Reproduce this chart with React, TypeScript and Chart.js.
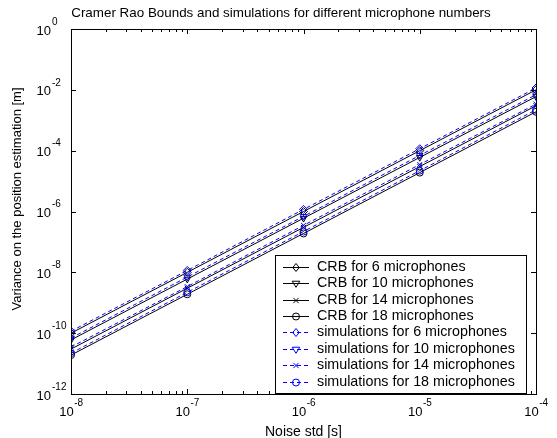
import React, { useEffect, useRef } from 'react';
import { Chart, registerables } from 'chart.js';

Chart.register(...registerables);

// ---- data ----
const noiseStd = [1e-8, 1e-7, 1e-6, 1e-5, 1e-4];

const crb6 = [1.0e-10, 1.0e-8, 1.0e-6, 1.0e-4, 1.0e-2];
const crb10 = [6.0e-11, 6.0e-9, 6.0e-7, 6.0e-5, 6.0e-3];
const crb14 = [3.0e-11, 3.0e-9, 3.0e-7, 3.0e-5, 3.0e-3];
const crb18 = [1.9e-11, 1.9e-9, 1.9e-7, 1.9e-5, 1.9e-3];

const sim6 = [1.16e-10, 1.15e-8, 1.17e-6, 1.16e-4, 1.15e-2];
const sim10 = [6.9e-11, 7.0e-9, 6.9e-7, 7.0e-5, 6.9e-3];
const sim14 = [3.5e-11, 3.4e-9, 3.5e-7, 3.5e-5, 3.4e-3];
const sim18 = [2.2e-11, 2.2e-9, 2.2e-7, 2.2e-5, 2.2e-3];

const crbLabels = [
  'CRB for 6 microphones',
  'CRB for 10 microphones',
  'CRB for 14 microphones',
  'CRB for 18 microphones',
];
const simLabels = [
  'simulations for 6 microphones',
  'simulations for 10 microphones',
  'simulations for 14 microphones',
  'simulations for 18 microphones',
];

const xTickValues = [1e-8, 1e-7, 1e-6, 1e-5, 1e-4];
const xTickExps = ['-8', '-7', '-6', '-5', '-4'];
const yTickValues = [1, 1e-2, 1e-4, 1e-6, 1e-8, 1e-10, 1e-12];
const yTickExps = ['0', '-2', '-4', '-6', '-8', '-10', '-12'];

const titleText = 'Cramer Rao Bounds and simulations for different microphone numbers';
const xTitle = 'Noise std [s]';
const yTitle = 'Variance on the position estimation [m]';

const FONT = '"Liberation Sans", Arial, Helvetica, sans-serif';
const BLUE = '#0000ff';
const styles = ['rectRot', 'triangle', 'crossRot', 'circle'];
const rotations = [0, 180, 0, 0];
const radii = [4, 3.8, 3.5, 3.5];

function drawMarker(ctx: CanvasRenderingContext2D, kind: string, x: number, y: number, r: number, color: string) {
  ctx.save();
  ctx.strokeStyle = color;
  ctx.lineWidth = 1;
  ctx.setLineDash([]);
  ctx.beginPath();
  if (kind === 'rectRot') {
    ctx.moveTo(x, y - r);
    ctx.lineTo(x + r * 0.8, y);
    ctx.lineTo(x, y + r);
    ctx.lineTo(x - r * 0.8, y);
    ctx.closePath();
  } else if (kind === 'triangle') {
    ctx.moveTo(x - r, y - r * 0.6);
    ctx.lineTo(x + r, y - r * 0.6);
    ctx.lineTo(x, y + r);
    ctx.closePath();
  } else if (kind === 'crossRot') {
    const d = r * 0.75;
    ctx.moveTo(x - d, y - d);
    ctx.lineTo(x + d, y + d);
    ctx.moveTo(x + d, y - d);
    ctx.lineTo(x - d, y + d);
  } else {
    ctx.arc(x, y, r, 0, Math.PI * 2);
  }
  ctx.stroke();
  ctx.restore();
}

const decorPlugin = {
  id: 'decor',
  afterDatasetsDraw(chart: any) {
    const { ctx, chartArea, scales } = chart;
    const { left, right, top, bottom } = chartArea;
    const xs = scales.x;
    const ys = scales.y;
    ctx.save();
    ctx.setLineDash([]);
    ctx.strokeStyle = '#000';
    ctx.lineWidth = 1;
    // box
    ctx.strokeRect(Math.round(left) + 0.5, Math.round(top) + 0.5, Math.round(right - left), Math.round(bottom - top));

    // x ticks (major + minor)
    ctx.beginPath();
    for (let d = -8; d <= -4; d++) {
      const px = Math.round(xs.getPixelForValue(Math.pow(10, d))) + 0.5;
      ctx.moveTo(px, bottom);
      ctx.lineTo(px, bottom - 5);
      ctx.moveTo(px, top);
      ctx.lineTo(px, top + 5);
      if (d < -4) {
        for (let m = 2; m <= 9; m++) {
          const mx = Math.round(xs.getPixelForValue(m * Math.pow(10, d))) + 0.5;
          ctx.moveTo(mx, bottom);
          ctx.lineTo(mx, bottom - 3);
          ctx.moveTo(mx, top);
          ctx.lineTo(mx, top + 3);
        }
      }
    }
    // y ticks
    yTickValues.forEach((v) => {
      const py = Math.round(ys.getPixelForValue(v)) + 0.5;
      ctx.moveTo(left, py);
      ctx.lineTo(left + 5, py);
      ctx.moveTo(right, py);
      ctx.lineTo(right - 5, py);
    });
    ctx.stroke();

    // x tick labels
    ctx.fillStyle = '#000';
    ctx.textBaseline = 'middle';
    xTickValues.forEach((v, i) => {
      const px = xs.getPixelForValue(v);
      ctx.font = `13px ${FONT}`;
      const wb = ctx.measureText('10').width;
      ctx.font = `10px ${FONT}`;
      const we = ctx.measureText(xTickExps[i]).width;
      const start = px - (wb + we) / 2;
      ctx.font = `13px ${FONT}`;
      ctx.textAlign = 'left';
      ctx.fillText('10', start, bottom + 18);
      ctx.font = `10px ${FONT}`;
      ctx.fillText(xTickExps[i], start + wb + 0.5, bottom + 9);
    });

    // y tick labels
    yTickValues.forEach((v, i) => {
      const py = ys.getPixelForValue(v);
      ctx.font = `13px ${FONT}`;
      ctx.textAlign = 'right';
      ctx.fillText('10', left - 20, py + 2);
      ctx.font = `10px ${FONT}`;
      ctx.textAlign = 'left';
      ctx.fillText(yTickExps[i], left - 19, py - 7);
    });

    // title
    ctx.font = `13.4px ${FONT}`;
    ctx.textAlign = 'center';
    ctx.fillText(titleText, 281, 13.5);

    // x title
    ctx.font = `14px ${FONT}`;
    ctx.fillText(xTitle, (left + right) / 2, bottom + 38);

    // y title
    ctx.save();
    ctx.font = `13px ${FONT}`;
    ctx.translate(17, 199);
    ctx.rotate(-Math.PI / 2);
    ctx.fillText(yTitle, 0, 0);
    ctx.restore();

    // legend
    const lx = 275, ly = 255, lw = 251, lh = 138;
    ctx.fillStyle = '#fff';
    ctx.fillRect(lx, ly, lw, lh);
    ctx.strokeStyle = '#000';
    ctx.strokeRect(lx + 0.5, ly + 0.5, lw, lh);
    const entries = [
      ...crbLabels.map((t, i) => ({ t, color: '#000', dash: [] as number[], s: styles[i], r: radii[i] })),
      ...simLabels.map((t, i) => ({ t, color: BLUE, dash: [4, 3], s: styles[i], r: radii[i] })),
    ];
    entries.forEach((e, i) => {
      const y = Math.round(ly + 11.7 + i * 16.4) + 0.5;
      ctx.save();
      ctx.strokeStyle = e.color;
      ctx.lineWidth = 1;
      ctx.setLineDash(e.dash);
      ctx.beginPath();
      ctx.moveTo(283, y);
      ctx.lineTo(309, y);
      ctx.stroke();
      ctx.restore();
      drawMarker(ctx, e.s, 296, y, e.r, e.color);
      ctx.fillStyle = '#000';
      ctx.font = `14.3px ${FONT}`;
      ctx.textAlign = 'left';
      ctx.textBaseline = 'middle';
      ctx.fillText(e.t, 317, y);
    });
    ctx.restore();
  },
};

function series(vals: number[]) {
  return noiseStd.map((x, i) => ({ x, y: vals[i] }));
}

export default function App() {
  const ref = useRef<HTMLCanvasElement | null>(null);
  useEffect(() => {
    document.body.style.margin = '0';
    const canvas = ref.current!;
    const crbs = [crb6, crb10, crb14, crb18];
    const sims = [sim6, sim10, sim14, sim18];
    const datasets: any[] = [];
    crbs.forEach((v, i) => {
      datasets.push({
        label: crbLabels[i],
        data: series(v),
        borderColor: '#000',
        borderWidth: 1,
        pointStyle: styles[i],
        rotation: rotations[i],
        pointRadius: radii[i],
        pointBorderColor: '#000',
        pointBackgroundColor: 'rgba(0,0,0,0)',
        pointBorderWidth: 1,
        fill: false,
        tension: 0,
        order: 2,
      });
    });
    sims.forEach((v, i) => {
      datasets.push({
        label: simLabels[i],
        data: series(v),
        borderColor: BLUE,
        borderWidth: 1,
        borderDash: [4, 3],
        pointStyle: styles[i],
        rotation: rotations[i],
        pointRadius: radii[i],
        pointBorderColor: BLUE,
        pointBackgroundColor: 'rgba(0,0,0,0)',
        pointBorderWidth: 1,
        fill: false,
        tension: 0,
        order: 1,
      });
    });
    const chart = new Chart(canvas, {
      type: 'line',
      data: { datasets },
      options: {
        animation: false,
        responsive: false,
        devicePixelRatio: 1,
        layout: { padding: { left: 71, right: 21, top: 29, bottom: 44 } },
        plugins: { legend: { display: false }, title: { display: false }, tooltip: { enabled: false } },
        scales: {
          x: { type: 'logarithmic', min: 1e-8, max: 1e-4, display: false },
          y: { type: 'logarithmic', min: 1e-12, max: 1, display: false },
        },
      },
      plugins: [decorPlugin],
    });
    return () => chart.destroy();
  }, []);
  return (
    <div style={{ position: 'absolute', left: 0, top: 0, width: 557, height: 438, background: '#fff' }}>
      <canvas ref={ref} width={557} height={438} style={{ display: 'block' }} />
    </div>
  );
}
